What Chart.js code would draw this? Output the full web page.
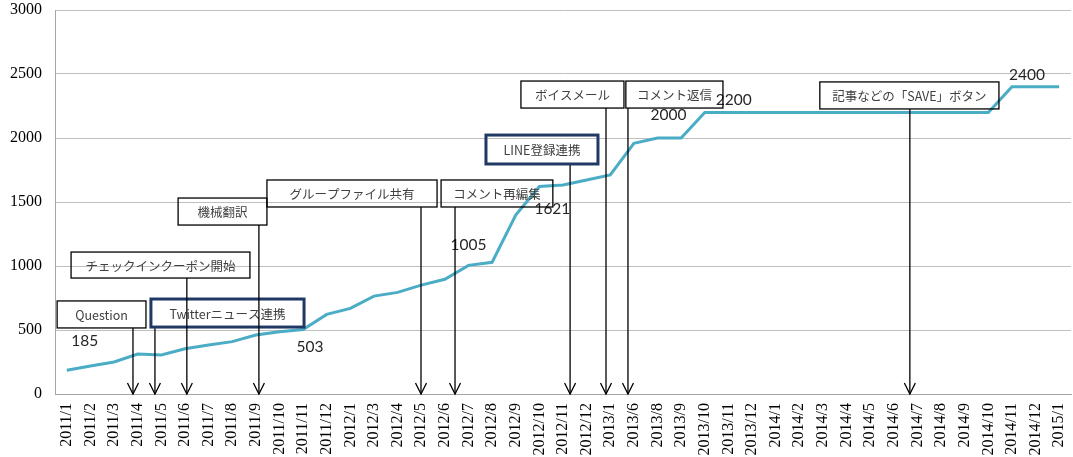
<!DOCTYPE html>
<html>
<head>
<meta charset="utf-8">
<script src="https://cdn.jsdelivr.net/npm/chart.js@4/dist/chart.umd.min.js"></script>
<style>
  html, body { margin: 0; padding: 0; background: #fff; }
  canvas { display: block; }
</style>
</head>
<body>
<canvas id="chart" width="1073" height="457"></canvas>
<script>
// Monthly categories (2012/2 and 2013/2–2013/5, 2013/7 are absent from the series)
const months = [
  '2011/1','2011/2','2011/3','2011/4','2011/5','2011/6','2011/7','2011/8','2011/9','2011/10','2011/11','2011/12',
  '2012/1','2012/3','2012/4','2012/5','2012/6','2012/7','2012/8','2012/9','2012/10','2012/11','2012/12',
  '2013/1','2013/6','2013/8','2013/9','2013/10','2013/11','2013/12',
  '2014/1','2014/2','2014/3','2014/4','2014/5','2014/6','2014/7','2014/8','2014/9','2014/10','2014/11','2014/12',
  '2015/1'
];

const userCounts = [
  185, 219, 250, 312, 305, 354, 383, 409, 461, 487, 503, 622,
  669, 765, 794, 851, 896, 1005, 1029, 1398, 1621, 1633, 1672,
  1711, 1958, 2000, 2000, 2200, 2200, 2200,
  2200, 2200, 2200, 2200, 2200, 2200, 2200, 2200, 2200, 2200, 2400, 2400,
  2400
];

const yTicks = [0, 500, 1000, 1500, 2000, 2500, 3000];

// Points that carry a value label
const labelledPoints = [0, 10, 17, 20, 25, 27, 40];

// Feature release callouts
const calloutTexts = [
  'Question',
  'Twitterニュース連携',
  'チェックインクーポン開始',
  '機械翻訳',
  'グループファイル共有',
  'コメント再編集',
  'LINE登録連携',
  'ボイスメール',
  'コメント返信',
  '記事などの「SAVE」ボタン'
];

// ---- layout / style (category units on x, value units on y) ----
const calloutLayout = [
  { x0: -0.41, x1: 3.35,  y0: 516,  y1: 727,  ax: 2.80,  strong: false },
  { x0: 3.56,  x1: 10.04, y0: 523,  y1: 742,  ax: 3.73,  strong: true  },
  { x0: 0.18,  x1: 7.75,  y0: 906,  y1: 1109, ax: 5.08,  strong: false },
  { x0: 4.71,  x1: 8.47,  y0: 1320, y1: 1531, ax: 8.13,  strong: false },
  { x0: 8.47,  x1: 15.67, y0: 1461, y1: 1672, ax: 14.99, strong: false },
  { x0: 15.84, x1: 20.57, y0: 1461, y1: 1672, ax: 16.43, strong: false },
  { x0: 17.74, x1: 22.48, y0: 1797, y1: 2023, ax: 21.30, strong: true  },
  { x0: 19.22, x1: 23.58, y0: 2234, y1: 2445, ax: 22.82, strong: false },
  { x0: 23.66, x1: 27.77, y0: 2234, y1: 2445, ax: 23.75, strong: false },
  { x0: 31.87, x1: 39.45, y0: 2227, y1: 2438, ax: 35.68, strong: false }
];

// pixel offsets of value labels from their points
const valueLabelOffsets = [
  [18, -29], [7, 17], [0, -20], [13, 22], [11, -23], [29, -12], [15, -12]
];

const calloutPlugin = {
  id: 'callouts',
  afterDatasetsDraw(chart) {
    const { ctx, scales: { x, y } } = chart;
    ctx.save();

    // value labels
    const meta = chart.getDatasetMeta(0);
    ctx.font = '15.5px Lato, "Open Sans", sans-serif';
    ctx.fillStyle = '#262626';
    ctx.textAlign = 'center';
    ctx.textBaseline = 'middle';
    labelledPoints.forEach((idx, i) => {
      const pt = meta.data[idx];
      const [dx, dy] = valueLabelOffsets[i];
      ctx.fillText(String(userCounts[idx]), pt.x + dx, pt.y + dy);
    });

    // callout boxes with arrows
    calloutTexts.forEach((text, i) => {
      const L = calloutLayout[i];
      const left = x.getPixelForValue(L.x0);
      const right = x.getPixelForValue(L.x1);
      const top = y.getPixelForValue(L.y1);
      const bottom = y.getPixelForValue(L.y0);
      const ax = x.getPixelForValue(L.ax);
      const tip = y.getPixelForValue(0);

      // arrow shaft
      ctx.strokeStyle = '#000';
      ctx.lineWidth = 1.3;
      ctx.beginPath();
      ctx.moveTo(ax, bottom);
      ctx.lineTo(ax, tip);
      ctx.stroke();
      // open arrow head
      ctx.beginPath();
      ctx.moveTo(ax - 5.5, tip - 11);
      ctx.lineTo(ax, tip);
      ctx.lineTo(ax + 5.5, tip - 11);
      ctx.stroke();

      // box
      if (L.strong) {
        ctx.strokeStyle = '#1F3864';
        ctx.lineWidth = 3;
      } else {
        ctx.strokeStyle = '#000';
        ctx.lineWidth = 1.3;
      }
      ctx.strokeRect(left, top, right - left, bottom - top);

      ctx.fillStyle = '#404040';
      ctx.font = '12.5px "Noto Sans CJK JP", sans-serif';
      ctx.textAlign = 'center';
      ctx.textBaseline = 'middle';
      ctx.fillText(text, (left + right) / 2, (top + bottom) / 2 + 1);
    });

    ctx.restore();
  }
};

new Chart(document.getElementById('chart'), {
  type: 'line',
  data: {
    labels: months,
    datasets: [{
      data: userCounts,
      borderColor: '#4BACC6',
      borderWidth: 3,
      pointRadius: 0,
      pointHoverRadius: 0,
      tension: 0,
      fill: false
    }]
  },
  options: {
    responsive: false,
    animation: false,
    events: [],
    layout: { padding: { top: 0, right: 2, left: 0, bottom: 0 } },
    plugins: { legend: { display: false }, tooltip: { enabled: false } },
    scales: {
      x: {
        type: 'category',
        offset: true,
        grid: { display: false, drawTicks: false },
        border: { display: true, color: '#A6A6A6', width: 1 },
        ticks: {
          autoSkip: false,
          minRotation: 90,
          maxRotation: 90,
          padding: 9,
          color: '#000',
          font: { family: '"Liberation Serif", "Times New Roman", serif', size: 16 }
        },
        afterFit(scale) {
          scale.height = 63;
          scale.paddingLeft = 0;
          scale.paddingRight = 0;
        }
      },
      y: {
        min: 0,
        max: 3000,
        afterBuildTicks(scale) { scale.ticks = yTicks.map(v => ({ value: v })); },
        grid: { color: '#BFBFBF', lineWidth: 1, drawTicks: false },
        border: { display: true, color: '#A6A6A6', width: 1 },
        ticks: {
          padding: 13,
          color: '#000',
          callback: (v) => String(v),
          font: { family: '"Liberation Serif", "Times New Roman", serif', size: 16 }
        },
        afterFit(scale) {
          scale.width = 55;
          scale.paddingTop = 10;
          scale.paddingBottom = 0;
        }
      }
    }
  },
  plugins: [calloutPlugin]
});
</script>
</body>
</html>
